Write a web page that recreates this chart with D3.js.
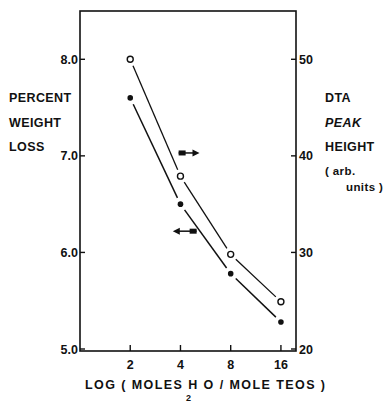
<!DOCTYPE html>
<html>
<head>
<meta charset="utf-8">
<script src="https://cdn.jsdelivr.net/npm/d3@7"></script>
<style>
  body { margin: 0; background: #fff; }
  text { font-family: "Liberation Sans", Arial, sans-serif; font-weight: bold; fill: #111; }
</style>
</head>
<body>
<div id="chart"></div>
<script>
// data
const molesWater = [2, 4, 8, 16];
const weightLoss = [7.6, 6.5, 5.78, 5.28];      // filled points, left axis
const dtaPeak = [50, 37.9, 29.8, 24.9];         // open points, right axis
const xTicks = [2, 4, 8, 16];
const leftTicks = [5, 6, 7, 8];
const rightTicks = [20, 30, 40, 50];

const width = 388, height = 402;
const svg = d3.select("#chart").append("svg")
    .attr("width", width)
    .attr("height", height);

const x = d3.scaleLog().base(2).domain([1, 19.7]).range([80, 296]);
const yLeft = d3.scaleLinear().domain([5, 8.5]).range([349, 11]);
const yRight = d3.scaleLinear().domain([20, 55]).range([349, 11]);

const ink = "#111";
const fs = 12.5;

// frame
svg.append("rect")
    .attr("x", x.range()[0]).attr("y", 11)
    .attr("width", x.range()[1] - x.range()[0])
    .attr("height", 340)
    .attr("fill", "none").attr("stroke", ink).attr("stroke-width", 1.6);

// left axis ticks (inside)
const gl = svg.append("g").attr("transform", "translate(80,0)");
gl.selectAll("line").data(leftTicks).enter().append("line")
    .attr("x1", 0).attr("x2", 5)
    .attr("y1", d => yLeft(d)).attr("y2", d => yLeft(d))
    .attr("stroke", ink).attr("stroke-width", 1.4);
gl.selectAll("text").data(leftTicks).enter().append("text")
    .attr("x", -2).attr("y", d => yLeft(d) + 4.5)
    .attr("text-anchor", "end").attr("font-size", fs)
    .text(d => d.toFixed(1));

// right axis ticks (inside)
const gr = svg.append("g").attr("transform", "translate(296,0)");
gr.selectAll("line").data(rightTicks).enter().append("line")
    .attr("x1", 0).attr("x2", -5)
    .attr("y1", d => yRight(d)).attr("y2", d => yRight(d))
    .attr("stroke", ink).attr("stroke-width", 1.4);
gr.selectAll("text").data(rightTicks).enter().append("text")
    .attr("x", 3).attr("y", d => yRight(d) + 4.5)
    .attr("text-anchor", "start").attr("font-size", fs)
    .text(d => d);

// bottom axis ticks (inside)
const gb = svg.append("g").attr("transform", "translate(0,351)");
gb.selectAll("line").data(xTicks).enter().append("line")
    .attr("x1", d => x(d)).attr("x2", d => x(d))
    .attr("y1", 0).attr("y2", -6)
    .attr("stroke", ink).attr("stroke-width", 1.4);
gb.selectAll("text").data(xTicks).enter().append("text")
    .attr("x", d => x(d)).attr("y", 18)
    .attr("text-anchor", "middle").attr("font-size", fs)
    .text(d => d);

// axis titles
svg.append("text").attr("x", 85).attr("y", 389).attr("font-size", fs)
    .attr("textLength", 240).attr("lengthAdjust", "spacing")
    .text("LOG ( MOLES H  O / MOLE TEOS )");
svg.append("text").attr("x", 186).attr("y", 401).attr("font-size", 9)
    .text("2");

const leftTitle = ["PERCENT", "WEIGHT", "LOSS"];
svg.selectAll(".lt").data(leftTitle).enter().append("text")
    .attr("class", "lt")
    .attr("x", 9).attr("y", (d, i) => 102 + i * 24.5)
    .attr("font-size", fs).attr("letter-spacing", 0.4).text(d => d);

const rightTitle = [
    {t: "DTA", dx: 0, dy: 0, it: false},
    {t: "PEAK", dx: 0, dy: 24.5, it: true},
    {t: "HEIGHT", dx: 0, dy: 49, it: false},
    {t: "( arb.", dx: 0, dy: 73, it: false},
    {t: "units )", dx: 21, dy: 89, it: false}
];
svg.selectAll(".rt").data(rightTitle).enter().append("text")
    .attr("class", "rt")
    .attr("x", d => 325 + d.dx).attr("y", d => 102 + d.dy)
    .attr("font-size", d => d.dy > 60 ? 11.5 : fs)
    .attr("letter-spacing", 0.4)
    .attr("font-style", d => d.it ? "italic" : "normal")
    .attr("font-weight", d => d.dy > 60 ? "normal" : "bold")
    .text(d => d.t);

// lines with gaps around markers
function gappedSegments(xs, ys, yScale, gap) {
    const segs = [];
    for (let i = 0; i < xs.length - 1; i++) {
        const x1 = x(xs[i]), y1 = yScale(ys[i]);
        const x2 = x(xs[i + 1]), y2 = yScale(ys[i + 1]);
        const len = Math.hypot(x2 - x1, y2 - y1);
        const ux = (x2 - x1) / len, uy = (y2 - y1) / len;
        segs.push([x1 + ux * gap, y1 + uy * gap, x2 - ux * gap, y2 - uy * gap]);
    }
    return segs;
}

svg.selectAll(".seg-open").data(gappedSegments(molesWater, dtaPeak, yRight, 7))
    .enter().append("line").attr("class", "seg-open")
    .attr("x1", d => d[0]).attr("y1", d => d[1])
    .attr("x2", d => d[2]).attr("y2", d => d[3])
    .attr("stroke", ink).attr("stroke-width", 1.3);

svg.selectAll(".seg-fill").data(gappedSegments(molesWater, weightLoss, yLeft, 7))
    .enter().append("line").attr("class", "seg-fill")
    .attr("x1", d => d[0]).attr("y1", d => d[1])
    .attr("x2", d => d[2]).attr("y2", d => d[3])
    .attr("stroke", ink).attr("stroke-width", 1.5);

svg.selectAll(".pt-open").data(molesWater).enter().append("circle")
    .attr("class", "pt-open")
    .attr("cx", d => x(d)).attr("cy", (d, i) => yRight(dtaPeak[i]))
    .attr("r", 3)
    .attr("fill", "#fff").attr("stroke", ink).attr("stroke-width", 1.4);

svg.selectAll(".pt-fill").data(molesWater).enter().append("circle")
    .attr("class", "pt-fill")
    .attr("cx", d => x(d)).attr("cy", (d, i) => yLeft(weightLoss[i]))
    .attr("r", 2.8)
    .attr("fill", ink);

// arrows telling which axis each curve belongs to
function arrow(x0, x1, y) {
    const dir = Math.sign(x1 - x0);
    const g = svg.append("g");
    // thick tail block
    g.append("rect")
        .attr("x", Math.min(x0, x0 + dir * 7)).attr("y", y - 2.5)
        .attr("width", 7).attr("height", 5).attr("fill", ink);
    g.append("line")
        .attr("x1", x0).attr("x2", x1 - dir * 4).attr("y1", y).attr("y2", y)
        .attr("stroke", ink).attr("stroke-width", 1.5);
    g.append("path")
        .attr("d", `M${x1},${y} L${x1 - dir * 7},${y - 3.5} L${x1 - dir * 7},${y + 3.5} Z`)
        .attr("fill", ink);
}
arrow(x(3.9), x(5.2), yRight(40.3));
arrow(x(5.0), x(3.6), yLeft(6.22));
</script>
</body>
</html>
